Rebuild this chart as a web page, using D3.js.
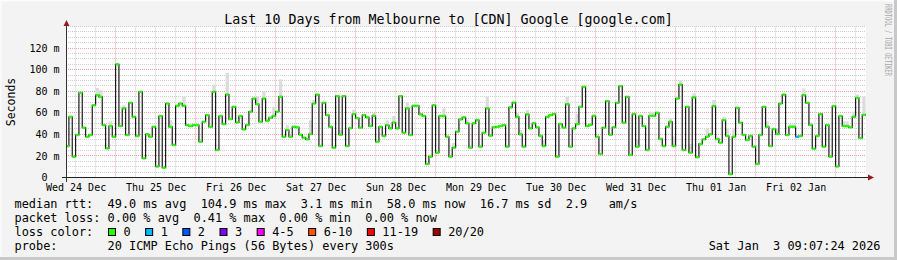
<!DOCTYPE html>
<html>
<head>
<meta charset="utf-8">
<script src="https://cdn.jsdelivr.net/npm/d3@7"></script>
<style>
    html, body { margin: 0; padding: 0; background: #f3f3f3; }
    svg { display: block; }
    text { font-family: "DejaVu Sans Mono", monospace; }
</style>
</head>
<body>
<svg id="chart" width="897" height="260"></svg>
<script>
'use strict';

// time window of the graph (chart clock, treated as UTC)
const startTime = "2025-12-24T09:07:24Z";
const endTime = "2026-01-03T09:07:24Z";
const firstHour = "2025-12-24T09:00:00Z";

// hourly median rtt in ms
const medianMs = [
    29.0, 56.3, 19.4, 39.4, 78.5, 46.2, 37.8, 39.4, 67.0, 76.3,
    74.8, 48.6, 27.0, 47.7, 37.8, 104.9, 47.7, 64.0, 39.4, 69.2,
    56.3, 38.5, 79.4, 17.8, 40.0, 37.8, 47.0, 10.2, 57.0, 9.2,
    68.6, 47.0, 30.2, 66.5, 68.6, 66.5, 48.6, 47.7, 48.6, 48.6,
    33.2, 51.7, 57.8, 47.0, 79.4, 25.5, 57.0, 49.5, 76.9, 54.2,
    65.5, 51.0, 57.0, 44.6, 48.6, 61.0, 73.2, 68.0, 51.7, 73.2,
    52.6, 55.4, 57.0, 61.0, 74.8, 37.8, 44.0, 37.8, 47.0, 46.5,
    39.7, 36.9, 35.4, 40.3, 68.6, 76.9, 29.2, 69.2, 57.8, 47.0,
    27.7, 75.4, 39.7, 75.4, 29.2, 45.8, 58.8, 55.0, 46.2, 57.8,
    55.7, 47.7, 57.2, 33.2, 47.0, 38.5, 48.6, 45.5, 51.0, 45.5,
    75.4, 41.5, 64.0, 39.4, 66.5, 66.5, 58.5, 57.0, 12.6, 19.4,
    67.0, 23.0, 57.0, 57.0, 37.8, 19.4, 27.7, 42.5, 53.8, 55.7,
    50.2, 27.7, 50.2, 53.2, 28.6, 41.5, 64.0, 38.8, 46.5, 47.0,
    47.7, 48.6, 28.6, 65.0, 69.5, 56.3, 40.0, 28.6, 58.5, 45.5,
    50.2, 46.5, 38.5, 29.2, 56.3, 57.8, 58.8, 19.4, 49.5, 46.2,
    68.0, 28.6, 45.5, 49.5, 65.5, 84.0, 47.7, 48.9, 57.0, 37.8,
    21.8, 46.2, 70.8, 39.7, 46.5, 69.2, 84.6, 50.8, 74.8, 20.9,
    58.8, 28.6, 57.0, 47.7, 25.5, 57.2, 57.2, 60.0, 35.7, 29.2,
    47.0, 51.7, 29.2, 73.2, 86.2, 25.5, 65.5, 23.0, 74.2, 18.8,
    31.1, 35.4, 37.8, 40.0, 66.2, 35.7, 32.3, 53.2, 38.5, 3.1,
    37.8, 64.6, 50.8, 39.4, 34.8, 38.5, 28.6, 12.6, 39.4, 65.5,
    47.0, 29.2, 44.9, 40.3, 68.6, 76.9, 39.4, 47.0, 47.0, 37.8,
    38.5, 76.3, 69.2, 48.6, 26.8, 38.5, 58.8, 28.6, 48.6, 19.4,
    66.2, 10.2, 57.0, 47.7, 47.7, 46.5, 56.3, 73.8, 36.6, 58.0
];

// top of the grey smoke above the median: [hour index, ms]
const smokeTop = [
    [9, 83], [10, 81], [13, 52], [17, 67], [31, 53], [35, 75], [44, 86], [48, 97],
    [57, 75], [59, 80], [62, 65.5], [64, 91], [66, 48.6], [73, 53], [74, 72], [82, 44],
    [86, 63], [92, 60], [96, 53], [98, 57], [102, 70], [113, 64], [116, 32], [120, 53],
    [126, 75], [135, 60], [136, 44], [138, 62.5], [140, 52], [143, 35], [150, 75], [153, 59],
    [158, 59], [171, 35.4], [175, 61], [176, 61], [181, 55], [182, 38], [184, 90], [187, 31],
    [188, 78], [192, 45.5], [194, 72], [197, 56.3], [198, 45.5], [200, 45.5], [210, 52], [213, 45.5],
    [217, 49.5], [218, 49.5], [221, 82.5], [223, 51], [233, 52], [234, 52], [236, 61], [237, 77],
    [239, 75]
];

// hours with lost pings: [hour index, lost of 20]
const lossSteps = [[219, 1]];

const dayLabels = ["Wed 24 Dec", "Thu 25 Dec", "Fri 26 Dec", "Sat 27 Dec", "Sun 28 Dec",
    "Mon 29 Dec", "Tue 30 Dec", "Wed 31 Dec", "Thu 01 Jan", "Fri 02 Jan"];
const yTicks = [0, 20, 40, 60, 80, 100, 120];
const yTickLabels = ["0  ", " 20 m", " 40 m", " 60 m", " 80 m", "100 m", "120 m"];

const lossLabels = ["0", "1", "2", "3", "4-5", "6-10", "11-19", "20/20"];
const lossColors = ["#26ff00", "#00b8ff", "#0059ff", "#7e00ff", "#ff00ff", "#ff5500", "#ff0000", "#a10000"];
const lossUpper = [0, 1, 2, 3, 5, 10, 19, 20];

const title = "Last 10 Days from Melbourne to [CDN] Google [google.com]";
const legendLines = [
    "median rtt:  49.0 ms avg  104.9 ms max  3.1 ms min  58.0 ms now  16.7 ms sd  2.9   am/s",
    "packet loss: 0.00 % avg  0.41 % max  0.00 % min  0.00 % now",
    "loss color:",
    "probe:       20 ICMP Echo Pings (56 Bytes) every 300s"
];
const stampText = "Sat Jan  3 09:07:24 2026";
const watermark = "RRDTOOL / TOBI OETIKER";

let svg = d3.select("#chart");
let W = +svg.attr("width"), H = +svg.attr("height");
let plot = {left: 66, right: 866, top: 26.5, bottom: 177.5};

let t0 = new Date(startTime), t1 = new Date(endTime), h0 = new Date(firstHour);

let x = d3.scaleUtc().domain([t0, t1]).range([plot.left, plot.right]);
let y = d3.scaleLinear().domain([0, 140]).range([plot.bottom, plot.top]);

let lossMap = new Map(lossSteps);
let smokeMap = new Map(smokeTop);

function lossColor(lost) {
    let i = lossUpper.findIndex(u => lost <= u);
    return lossColors[i < 0 ? lossColors.length - 1 : i];
}

let steps = medianMs.map((v, i) => {
    let a = d3.utcHour.offset(h0, i), b = d3.utcHour.offset(h0, i + 1);
    return {
        from: a < t0 ? t0 : a,
        to: b > t1 ? t1 : b,
        median: v,
        smoke: smokeMap.get(i),
        lost: lossMap.get(i) || 0
    };
});

// canvas + 3d frame
svg.append("rect").attr("width", W).attr("height", H).attr("fill", "#f3f3f3");
svg.append("path").attr("d", `M0.5,${H}V0.5H${W}`).attr("fill", "none").attr("stroke", "#fcfcfc").attr("stroke-width", 2);
svg.append("path").attr("d", `M${W - 1.5},0V${H - 1.5}H0`).attr("fill", "none").attr("stroke", "#c8c8c8").attr("stroke-width", 3);

svg.append("rect")
    .attr("x", plot.left).attr("y", plot.top)
    .attr("width", plot.right - plot.left).attr("height", plot.bottom - plot.top)
    .attr("fill", "#ffffff");

// grid
let px = v => Math.floor(v) + 0.5;
let grid = svg.append("g").attr("stroke-dasharray", "1,1").attr("stroke-width", 1);

let minorY = d3.range(5, 141, 5).filter(v => !(v % 20 === 0 && v <= 120));
grid.selectAll("line.hmin").data(minorY).enter().append("line")
    .attr("x1", plot.left).attr("x2", plot.right)
    .attr("y1", d => px(y(d))).attr("y2", d => px(y(d)))
    .attr("stroke", "#cfcfcf");

let minorX = d3.utcHour.every(6).range(t0, t1).filter(d => d.getUTCHours() !== 0);
grid.selectAll("line.vmin").data(minorX).enter().append("line")
    .attr("x1", d => px(x(d))).attr("x2", d => px(x(d)))
    .attr("y1", plot.top).attr("y2", plot.bottom)
    .attr("stroke", "#cfcfcf");

grid.selectAll("line.hmaj").data(yTicks.slice(1)).enter().append("line")
    .attr("x1", plot.left).attr("x2", plot.right)
    .attr("y1", d => px(y(d))).attr("y2", d => px(y(d)))
    .attr("stroke", "#eba3a3");

grid.selectAll("line.vmaj").data(d3.utcDay.range(t0, t1)).enter().append("line")
    .attr("x1", d => px(x(d))).attr("x2", d => px(x(d)))
    .attr("y1", plot.top).attr("y2", plot.bottom)
    .attr("stroke", "#eba3a3");

// smoke
svg.append("g").selectAll("rect")
    .data(steps.filter(d => d.smoke !== undefined))
    .enter().append("rect")
    .attr("x", d => x(d.from))
    .attr("width", d => x(d.to) - x(d.from))
    .attr("y", d => y(d.smoke))
    .attr("height", d => y(d.median) - y(d.smoke))
    .attr("fill", "#dcdcdc");

// median line (stepped)
let linePts = steps.map(d => ({t: d.from, v: d.median}));
linePts.push({t: t1, v: steps[steps.length - 1].median});
let line = d3.line()
    .curve(d3.curveStepAfter)
    .x(d => x(d.t))
    .y(d => y(d.v));
svg.append("path")
    .attr("d", line(linePts))
    .attr("fill", "none")
    .attr("stroke", "#1a1a1a")
    .attr("stroke-width", 1.2);

// loss coloured band on each median step
svg.append("g").selectAll("rect")
    .data(steps)
    .enter().append("rect")
    .attr("x", d => x(d.from))
    .attr("width", d => x(d.to) - x(d.from))
    .attr("y", d => y(d.median) - 1.2)
    .attr("height", 2.4)
    .attr("fill", d => lossColor(d.lost));

// axes lines + arrows
svg.append("line")
    .attr("x1", 62).attr("x2", 870).attr("y1", plot.bottom).attr("y2", plot.bottom)
    .attr("stroke", "#222");
svg.append("line")
    .attr("x1", plot.left + 0.5).attr("x2", plot.left + 0.5).attr("y1", 182).attr("y2", 24)
    .attr("stroke", "#333");
svg.append("path").attr("d", "M868,174.5L874,177.5L868,180.5Z").attr("fill", "#9a1a1a");
svg.append("path").attr("d", "M63.5,26L66.5,20L69.5,26Z").attr("fill", "#9a1a1a");

// tick labels
let labelDates = dayLabels.map((d, i) => d3.utcHour.offset(d3.utcDay.offset(d3.utcDay.floor(t0), i), 12));
let xAxis = svg.append("g")
    .attr("transform", `translate(0,${plot.bottom})`)
    .call(d3.axisBottom(x).tickValues(labelDates).tickSize(0).tickPadding(6)
        .tickFormat((d, i) => dayLabels[i]));
xAxis.select(".domain").remove();
xAxis.attr("font-family", null).attr("font-size", null);
xAxis.selectAll("text").attr("font-size", "10px").attr("fill", "#000");

let yAxis = svg.append("g")
    .attr("transform", `translate(${plot.left + 0.5},0)`)
    .call(d3.axisLeft(y).tickValues(yTicks).tickSize(0).tickPadding(7)
        .tickFormat((d, i) => yTickLabels[i]));
yAxis.select(".domain").remove();
yAxis.attr("font-family", null).attr("font-size", null);
yAxis.selectAll("text")
    .attr("font-size", "10px")
    .attr("fill", "#000")
    .attr("xml:space", "preserve")
    .style("white-space", "pre");

// unit label
svg.append("text")
    .attr("transform", `translate(15,${(plot.top + plot.bottom) / 2}) rotate(-90)`)
    .attr("text-anchor", "middle")
    .attr("font-size", "11.5px")
    .text("Seconds");

// title
svg.append("text")
    .attr("x", W / 2).attr("y", 24)
    .attr("text-anchor", "middle")
    .attr("font-size", "13.3px")
    .text(title);

// watermark
svg.append("text")
    .attr("transform", "translate(884.5,4) rotate(90)")
    .attr("font-size", "9.5px")
    .attr("fill", "#a8a8a8")
    .attr("textLength", 72)
    .attr("lengthAdjust", "spacingAndGlyphs")
    .text(watermark);

// legend
let legendY = [208, 221.9, 235.8, 249.7];
svg.append("g").selectAll("text")
    .data(legendLines)
    .enter().append("text")
    .attr("x", 14.5)
    .attr("y", (d, i) => legendY[i])
    .attr("font-size", "11.9px")
    .attr("xml:space", "preserve")
    .style("white-space", "pre")
    .text(d => d);

let charW = 7.167;
let bx = 108;
let lossItems = lossLabels.map((lbl, i) => {
    let item = {label: lbl, color: lossColors[i], x: bx};
    bx += 30 + charW * lbl.length;
    return item;
});
let li = svg.append("g").selectAll("g").data(lossItems).enter().append("g");
li.append("rect")
    .attr("x", d => d.x + 0.5).attr("y", 228.5)
    .attr("width", 7).attr("height", 7)
    .attr("fill", d => d.color)
    .attr("stroke", "#000");
li.append("text")
    .attr("x", d => d.x + 15.5)
    .attr("y", legendY[2])
    .attr("font-size", "11.9px")
    .text(d => d.label);

svg.append("text")
    .attr("x", 880.5).attr("y", legendY[3])
    .attr("text-anchor", "end")
    .attr("font-size", "11.9px")
    .attr("xml:space", "preserve")
    .style("white-space", "pre")
    .text(stampText);
</script>
</body>
</html>
